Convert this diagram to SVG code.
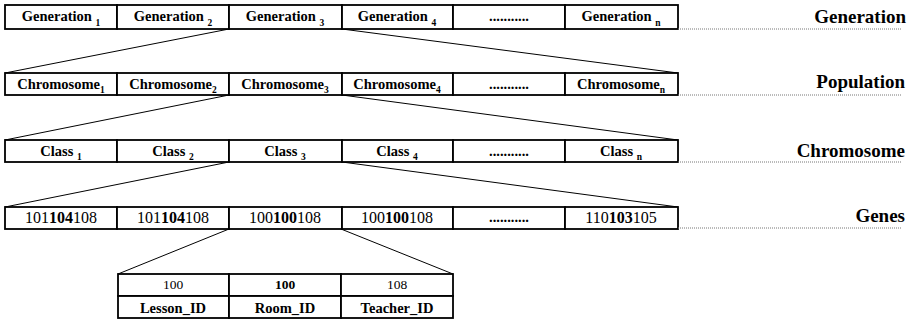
<svg xmlns="http://www.w3.org/2000/svg" width="913" height="320" viewBox="0 0 913 320" font-family="Liberation Serif, Times New Roman, serif">
  <style>
    .cell { fill: #fff; stroke: #000; stroke-width: 1.8; }
    .lbl { font-size: 14.5px; font-weight: bold; text-anchor: middle; fill: #000; }
    .num { font-size: 16px; text-anchor: middle; fill: #000; }
    .small { font-size: 13.5px; }
    .sub { font-size: 9.5px; font-weight: bold; }
    .b { font-weight: bold; }
    .level { font-size: 19px; font-weight: bold; text-anchor: end; fill: #000; }
    .guide { stroke: #777; stroke-width: 1; stroke-dasharray: 1 1; fill: none; }
    .link { stroke: #000; stroke-width: 1; fill: none; }
  </style>
  <rect width="913" height="320" fill="#fff"/>

  <!-- expansion connectors between levels -->
  <g id="connectors">
    <line class="link" x1="229" y1="29" x2="5" y2="73"/>
    <line class="link" x1="342" y1="29" x2="678" y2="73"/>
    <line class="link" x1="229" y1="95" x2="5" y2="140"/>
    <line class="link" x1="342" y1="95" x2="678" y2="140"/>
    <line class="link" x1="229" y1="162" x2="5" y2="207"/>
    <line class="link" x1="342" y1="162" x2="678" y2="207"/>
    <line class="link" x1="229" y1="229" x2="118" y2="274"/>
    <line class="link" x1="341" y1="229" x2="453" y2="274"/>
  </g>

  <!-- level: generations -->
  <g id="generation-row">
    <rect class="cell" x="5" y="5" width="112" height="24"/>
    <rect class="cell" x="117" y="5" width="112" height="24"/>
    <rect class="cell" x="229" y="5" width="113" height="24"/>
    <rect class="cell" x="342" y="5" width="111" height="24"/>
    <rect class="cell" x="453" y="5" width="112" height="24"/>
    <rect class="cell" x="565" y="5" width="113" height="24"/>
    <text class="lbl" x="61" y="21">Generation <tspan class="sub" dy="5">1</tspan></text>
    <text class="lbl" x="173" y="21">Generation <tspan class="sub" dy="5">2</tspan></text>
    <text class="lbl" x="285" y="21">Generation <tspan class="sub" dy="5">3</tspan></text>
    <text class="lbl" x="397" y="21">Generation <tspan class="sub" dy="5">4</tspan></text>
    <text class="lbl" x="509" y="21">...........</text>
    <text class="lbl" x="621" y="21">Generation <tspan class="sub" dy="5">n</tspan></text>
    <line class="guide" x1="678" y1="29" x2="902" y2="29"/>
    <text class="level" x="906" y="23">Generation</text>
  </g>

  <!-- level: population of chromosomes -->
  <g id="population-row">
    <rect class="cell" x="5" y="73" width="112" height="22"/>
    <rect class="cell" x="117" y="73" width="112" height="22"/>
    <rect class="cell" x="229" y="73" width="113" height="22"/>
    <rect class="cell" x="342" y="73" width="111" height="22"/>
    <rect class="cell" x="453" y="73" width="112" height="22"/>
    <rect class="cell" x="565" y="73" width="113" height="22"/>
    <text class="lbl" x="61" y="89">Chromosome<tspan class="sub" dy="4">1</tspan></text>
    <text class="lbl" x="173" y="89">Chromosome<tspan class="sub" dy="4">2</tspan></text>
    <text class="lbl" x="285" y="89">Chromosome<tspan class="sub" dy="4">3</tspan></text>
    <text class="lbl" x="397" y="89">Chromosome<tspan class="sub" dy="4">4</tspan></text>
    <text class="lbl" x="509" y="89">...........</text>
    <text class="lbl" x="621" y="89">Chromosome<tspan class="sub" dy="4">n</tspan></text>
    <line class="guide" x1="678" y1="95" x2="902" y2="95"/>
    <text class="level" x="905" y="88">Population</text>
  </g>

  <!-- level: classes of one chromosome -->
  <g id="chromosome-row">
    <rect class="cell" x="5" y="140" width="112" height="22"/>
    <rect class="cell" x="117" y="140" width="112" height="22"/>
    <rect class="cell" x="229" y="140" width="113" height="22"/>
    <rect class="cell" x="342" y="140" width="111" height="22"/>
    <rect class="cell" x="453" y="140" width="112" height="22"/>
    <rect class="cell" x="565" y="140" width="113" height="22"/>
    <text class="lbl" x="61" y="156">Class <tspan class="sub" dy="4">1</tspan></text>
    <text class="lbl" x="173" y="156">Class <tspan class="sub" dy="4">2</tspan></text>
    <text class="lbl" x="285" y="156">Class <tspan class="sub" dy="4">3</tspan></text>
    <text class="lbl" x="397" y="156">Class <tspan class="sub" dy="4">4</tspan></text>
    <text class="lbl" x="509" y="156">...........</text>
    <text class="lbl" x="621" y="156">Class <tspan class="sub" dy="4">n</tspan></text>
    <line class="guide" x1="678" y1="162" x2="902" y2="162"/>
    <text class="level" x="905" y="157">Chromosome</text>
  </g>

  <!-- level: gene codes of one class -->
  <g id="genes-row">
    <rect class="cell" x="5" y="207" width="112" height="22"/>
    <rect class="cell" x="117" y="207" width="112" height="22"/>
    <rect class="cell" x="229" y="207" width="113" height="22"/>
    <rect class="cell" x="342" y="207" width="111" height="22"/>
    <rect class="cell" x="453" y="207" width="112" height="22"/>
    <rect class="cell" x="565" y="207" width="113" height="22"/>
    <text class="num" x="61" y="223">101<tspan class="b">104</tspan>108</text>
    <text class="num" x="173" y="223">101<tspan class="b">104</tspan>108</text>
    <text class="num" x="285" y="223">100<tspan class="b">100</tspan>108</text>
    <text class="num" x="397" y="223">100<tspan class="b">100</tspan>108</text>
    <text class="lbl" x="509" y="222">...........</text>
    <text class="num" x="621" y="223">110<tspan class="b">103</tspan>105</text>
    <line class="guide" x1="678" y1="228" x2="902" y2="228"/>
    <text class="level" x="905" y="222">Genes</text>
  </g>

  <!-- gene detail: lesson, room, teacher -->
  <g id="gene-detail">
    <rect class="cell" x="118" y="274" width="111" height="22"/>
    <rect class="cell" x="229" y="274" width="112" height="22"/>
    <rect class="cell" x="341" y="274" width="112" height="22"/>
    <rect class="cell" x="118" y="296" width="111" height="22"/>
    <rect class="cell" x="229" y="296" width="112" height="22"/>
    <rect class="cell" x="341" y="296" width="112" height="22"/>
    <text class="num small" x="173" y="289">100</text>
    <text class="num small b" x="285" y="289">100</text>
    <text class="num small" x="397" y="289">108</text>
    <text class="lbl" x="173" y="313">Lesson_ID</text>
    <text class="lbl" x="285" y="313">Room_ID</text>
    <text class="lbl" x="397" y="313">Teacher_ID</text>
  </g>
</svg>
